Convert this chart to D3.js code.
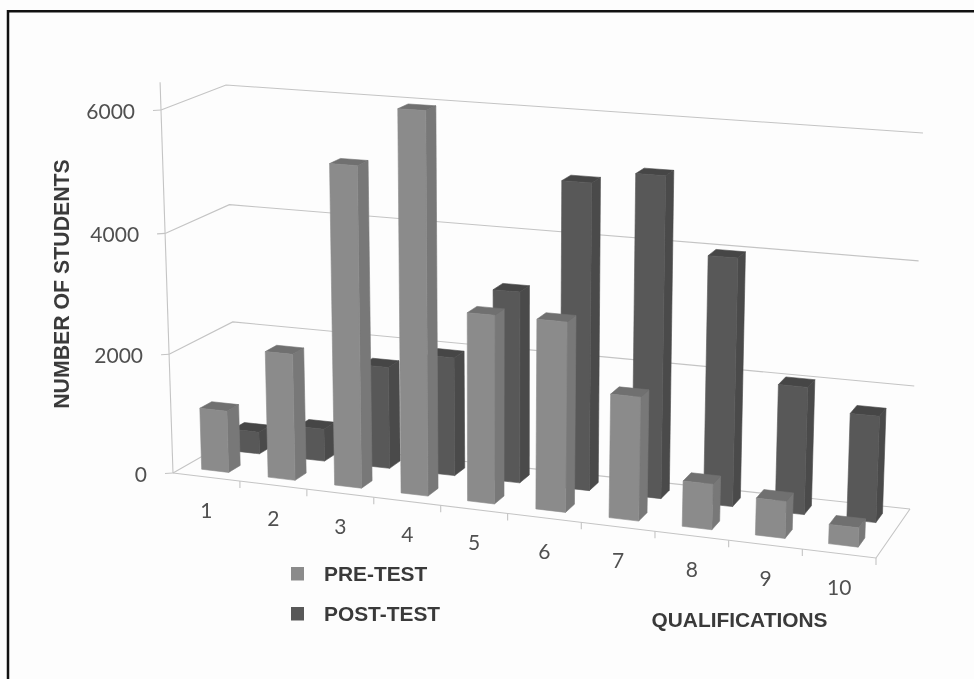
<!DOCTYPE html>
<html lang="en">
<head>
<meta charset="UTF-8">
<title>Number of students by qualification</title>
<script src="https://d3js.org/d3.v7.min.js"></script>
<style>
    html, body { margin: 0; padding: 0; background: #fdfdfd; overflow: hidden; }
    svg { display: block; filter: blur(0.45px); }
</style>
</head>
<body>
<svg width="974" height="679"></svg>
<script>
    const categories = ["1", "2", "3", "4", "5", "6", "7", "8", "9", "10"];
    const preTest = [1030, 2100, 5250, 6200, 3050, 3050, 1980, 720, 580, 300];
    const postTest = [370, 540, 1700, 1970, 3150, 5000, 5200, 4000, 2050, 1700];
    const yTicks = [0, 2000, 4000, 6000];

    const svg = d3.select("svg");

    // fake perspective: corners of the chart box, blended by three scales
    const corners = {
        front0L: [173, 473], front6L: [161, 110],
        back0L: [236, 437], back6L: [226, 85],
        front0R: [876, 558], front6R: [892, 160],
        back0R: [910, 509], back6R: [923, 133]
    };
    const uScale = d3.scaleLinear().domain([0, 5, 10]).range([0, 0.476, 1]);
    const vScale = d3.scaleLinear().domain([0, 2000, 4000, 6000]).range([0, 0.327, 0.66, 1]);

    function project(u, d, v) {
        const a = uScale(u), b = d, c = vScale(v);
        const mix = (p, q, t) => [p[0] + (q[0] - p[0]) * t, p[1] + (q[1] - p[1]) * t];
        const f0 = mix(corners.front0L, corners.front0R, a);
        const f6 = mix(corners.front6L, corners.front6R, a);
        const b0 = mix(corners.back0L, corners.back0R, a);
        const b6 = mix(corners.back6L, corners.back6R, a);
        return mix(mix(f0, f6, c), mix(b0, b6, c), b);
    }
    const poly = pts => d3.line()(pts);

    // gridlines on the two walls
    const gridColor = "#c4c4c4";
    const grid = svg.append("g").attr("fill", "none").attr("stroke", gridColor).attr("stroke-width", 1.1);
    yTicks.forEach(v => {
        grid.append("path").attr("d", poly([project(0, 0, v), project(0, 1, v), project(10, 1, v)]));
    });
    grid.append("path").attr("d", poly([project(0, 0, 0), project(0, 0, 6450)]));
    // floor edges and ticks
    grid.append("path").attr("d", poly([project(0, 0, 0), project(10, 0, 0), project(10, 1, 0)]));
    d3.range(1, 11).forEach(u => {
        const p = project(u, 0, 0);
        grid.append("line").attr("x1", p[0]).attr("y1", p[1]).attr("x2", p[0]).attr("y2", p[1] + 7);
    });
    yTicks.forEach(v => {
        const p = project(0, 0, v);
        grid.append("line").attr("x1", p[0] - 8).attr("y1", p[1] + 0.5).attr("x2", p[0]).attr("y2", p[1]);
    });

    // 3d bars
    const barW = 0.405, barStart = 0.275, barDepth = 0.19;
    const preColors = { front: "#8b8b8b", side: "#787878", top: "#707070" };
    const postColors = { front: "#585858", side: "#4a4a4a", top: "#464646" };

    function drawBar(cat, value, d0, colors) {
        const u0 = cat + barStart, u1 = u0 + barW, d1 = d0 + barDepth;
        const g = svg.append("g").attr("stroke-width", 0.6);
        g.append("path").attr("fill", colors.side).attr("stroke", colors.side)
            .attr("d", poly([project(u1, d0, 0), project(u1, d1, 0), project(u1, d1, value), project(u1, d0, value)]) + "Z");
        g.append("path").attr("fill", colors.top).attr("stroke", colors.top)
            .attr("d", poly([project(u0, d0, value), project(u1, d0, value), project(u1, d1, value), project(u0, d1, value)]) + "Z");
        g.append("path").attr("fill", colors.front).attr("stroke", colors.front)
            .attr("d", poly([project(u0, d0, 0), project(u1, d0, 0), project(u1, d0, value), project(u0, d0, value)]) + "Z");
    }

    // back row first, then front row
    postTest.forEach((v, i) => drawBar(i, v, 0.67, postColors));
    preTest.forEach((v, i) => drawBar(i, v, 0.165, preColors));

    // tick labels
    const numFont = "Lato, 'Open Sans', sans-serif";
    const numColor = "#505050";
    yTicks.forEach(v => {
        const p = project(0, 0, v);
        svg.append("text").attr("x", p[0] - 26).attr("y", p[1] + 9)
            .attr("text-anchor", "end").attr("font-family", numFont).attr("font-size", 21)
            .attr("fill", numColor).text(d3.format("d")(v));
    });
    categories.forEach((c, i) => {
        const p = project(i + 0.5, 0, 0);
        svg.append("text").attr("x", p[0]).attr("y", p[1] + 41)
            .attr("text-anchor", "middle").attr("font-family", numFont).attr("font-size", 21)
            .attr("fill", numColor).text(c);
    });

    // axis titles
    const titleFont = "'Liberation Sans', Arial, sans-serif";
    svg.append("text").attr("transform", "translate(69,284) rotate(-90)")
        .attr("text-anchor", "middle").attr("font-family", titleFont).attr("font-weight", "bold")
        .attr("font-size", 21.3).attr("fill", "#3a3a3a").text("NUMBER OF STUDENTS");
    svg.append("text").attr("x", 739.5).attr("y", 627)
        .attr("text-anchor", "middle").attr("font-family", titleFont).attr("font-weight", "bold")
        .attr("font-size", 20.9).attr("fill", "#3a3a3a").text("QUALIFICATIONS");

    // legend
    const legend = [["PRE-TEST", preColors.front, 574], ["POST-TEST", postColors.front, 614]];
    legend.forEach(([label, color, y]) => {
        svg.append("rect").attr("x", 291).attr("y", y - 7).attr("width", 13).attr("height", 13.5).attr("fill", color);
        svg.append("text").attr("x", 324).attr("y", y + 7).attr("font-family", titleFont)
            .attr("font-weight", "bold").attr("font-size", 20.9).attr("fill", "#3a3a3a").text(label);
    });

    // frame: only top and left edges are in the picture
    svg.append("path").attr("fill", "none").attr("stroke", "#111").attr("stroke-width", 2.5)
        .attr("d", "M8,679V11.2H974");
</script>
</body>
</html>
